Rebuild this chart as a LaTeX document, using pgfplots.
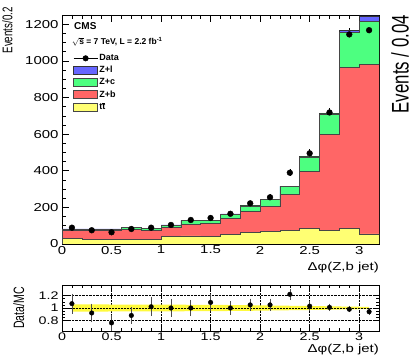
\documentclass[border=0pt]{standalone}
\usepackage{fontspec}
\setmainfont[FakeStretch=1.3]{Liberation Sans}
\newfontfamily\vfont[FakeStretch=0.7]{Liberation Sans}
\newfontfamily\bfont{Liberation Sans}
\usepackage{pgfplots}
\usepackage{pgfplotstable}
\pgfplotsset{compat=1.18}
\definecolor{zlcol}{RGB}{102,102,255}
\definecolor{zccol}{RGB}{77,255,128}
\definecolor{zbcol}{RGB}{255,102,102}
\definecolor{ttcol}{RGB}{255,255,115}
\definecolor{bandcol}{RGB}{255,250,60}
\definecolor{edge}{RGB}{70,70,70}
\newcommand{\ttbar}{t\vbox{\hrule height .5pt\kern .7pt\hbox{t}}}

\pgfplotstableread{
x   tt  zb  zc  zl
0.0 29  44  8   1
0.2 26  47  8   1
0.4 26  47  8   1
0.6 26  54  10  1
0.8 26  50  7   1
1.0 40  51  12  1
1.2 44  63  21  1
1.4 42  72  14  1
1.6 51  89  23  1
1.8 65  115 28  1
2.0 67  139 37  1
2.2 73  198 44  1
2.4 86  312 77  2
2.6 76  522 112 4
2.8 86  878 189 14
3.0 55  927 235 28
3.2 55  927 235 28
}\mc

\pgfplotstableread{
x   y    e
0.1 89   9.4
0.3 75   8.7
0.5 64   8.0
0.7 82   9.1
0.9 89   9.4
1.1 104  10.2
1.3 131  11.4
1.5 142  11.9
1.7 165  12.8
1.9 222  14.9
2.1 255  16.0
2.3 389  19.7
2.5 495  22.2
2.7 718  26.8
2.9 1144 33.8
3.1 1167 34.2
}\data

\pgfplotstableread{
x   r    e
0.1 1.07 0.13
0.3 0.92 0.12
0.5 0.76 0.10
0.7 0.88 0.10
0.9 1.02 0.12
1.1 1.00 0.11
1.3 1.00 0.10
1.5 1.09 0.10
1.7 1.00 0.08
1.9 1.05 0.07
2.1 1.05 0.07
2.3 1.22 0.06
2.5 1.03 0.05
2.7 1.01 0.03
2.9 0.98 0.02
3.1 0.94 0.02
}\ratio

% MC uncertainty band: upper edge left to right, then lower edge right to left
\pgfplotstableread{
x   b
0.1 1.060
0.3 1.058
0.5 1.056
0.7 1.055
0.9 1.054
1.1 1.053
1.3 1.052
1.5 1.050
1.7 1.048
1.9 1.045
2.1 1.040
2.3 1.036
2.5 1.032
2.7 1.027
2.9 1.022
3.1 1.018
3.1 0.982
2.9 0.978
2.7 0.973
2.5 0.968
2.3 0.964
2.1 0.960
1.9 0.955
1.7 0.952
1.5 0.950
1.3 0.948
1.1 0.947
0.9 0.946
0.7 0.945
0.5 0.944
0.3 0.942
0.1 0.940
}\band

\pgfplotsset{
  myaxis/.style={
    scale only axis, anchor=south west,
    xmin=0, xmax=3.2,
    xtick={0,0.5,1,1.5,2,2.5,3},
    xticklabels={0,0.5,1,1.5,2,2.5,3},
    minor x tick num=4,
    tick align=inside,
    major tick length=7pt, minor tick length=4pt,
    axis line style={black, line width=0.6pt},
    tick style={black, line width=0.5pt},
  },
  histo/.style={const plot mark left, line width=0.6pt, draw=edge, fill=#1,
    area legend, legend image code/.code={\draw[##1, line width=0.6pt] (0pt,-4pt) rectangle (24pt,4pt);}},
}

\begin{document}
\begin{tikzpicture}
\useasboundingbox (0pt,0pt) rectangle (415pt,361pt);

\begin{axis}[myaxis, at={(62pt,117pt)}, width=317pt, height=229pt,
  ymin=0, ymax=1250,
  ytick={0,200,400,600,800,1000,1200},
  yticklabels={0,200,400,600,800,1000,1200},
  minor y tick num=3,
  tick label style={font=\fontsize{11.5}{12}\selectfont},
  xticklabel style={yshift=1.5pt},
  xlabel={Δφ(Z,b jet)},
  xlabel style={at={(rel axis cs:1,0)}, anchor=north east, inner sep=0pt, yshift=-18pt, font=\fontsize{11.5}{12}\selectfont},
  stack plots=y,
  reverse legend,
  legend style={at={(rel axis cs:0.035,0.835)}, anchor=north west, draw=none, fill=none,
    font=\bfont\bfseries\fontsize{9}{9}\selectfont, row sep=1.2pt, inner sep=0pt,
    nodes={inner sep=1.5pt}, /tikz/every even column/.append style={column sep=3pt}},
  legend cell align=left,
]
\addplot[histo=ttcol] table[x=x, y=tt] {\mc} \closedcycle;
\addlegendentry{\ttbar}
\addplot[histo=zbcol] table[x=x, y=zb] {\mc} \closedcycle;
\addlegendentry{Z+b}
\addplot[histo=zccol] table[x=x, y=zc] {\mc} \closedcycle;
\addlegendentry{Z+c}
\addplot[histo=zlcol, draw=black!80] table[x=x, y=zl] {\mc} \closedcycle;
\addlegendentry{Z+l}
\addplot[stack plots=false, only marks, mark=*, mark size=2.9pt, black,
  legend image code/.code={\draw[black, line width=0.6pt] (0pt,0pt)--(24pt,0pt); \fill[black] (12pt,0pt) circle (2.8pt);},
  error bars/.cd, y dir=both, y explicit, error mark=none, error bar style={black, line width=0.6pt}]
  table[x=x, y=y, y error=e] {\data};
\addlegendentry{Data}
\end{axis}

\begin{axis}[myaxis, at={(62pt,30pt)}, width=317pt, height=46pt,
  ymin=0.63, ymax=1.37,
  ytick={0.8,1,1.2},
  yticklabels={0.8,1,1.2},
  minor y tick num=3,
  major tick length=6pt, minor tick length=3pt,
  grid=major, grid style={black, densely dotted, line width=0.5pt},
  tick label style={font=\fontsize{11}{11}\selectfont},
  xticklabel style={yshift=1.5pt},
  xlabel={Δφ(Z,b jet)},
  xlabel style={at={(rel axis cs:1,0)}, anchor=north east, inner sep=0pt, yshift=-13pt, font=\fontsize{11.5}{12}\selectfont},
]
\addplot[fill=bandcol, draw=none] table[x=x, y=b] {\band} -- cycle;
\addplot[black, densely dotted, line width=0.5pt] coordinates {(0,1) (3.2,1)};
\addplot[only marks, mark=*, mark size=2.3pt, black,
  error bars/.cd, y dir=both, y explicit, error mark=-, error mark options={mark size=2pt, line width=0.6pt, draw=black!70},
  error bar style={black!70, line width=0.6pt}]
  table[x=x, y=r, y error=e] {\ratio};
\end{axis}

\node[anchor=north west, inner sep=0pt, font=\bfont\bfseries\fontsize{10}{10}\selectfont] at (74pt,338.5pt) {CMS};
\node[anchor=north west, inner sep=0pt, font=\bfont\bfseries\fontsize{8.5}{9}\selectfont] at (72pt,323.5pt) {$\sqrt{\mbox{\bfont\bfseries s}}$ = 7 TeV, L = 2.2 fb\textsuperscript{-1}};
\node[rotate=90, anchor=north east, inner sep=0pt, font=\vfont\fontsize{14}{14}\selectfont] at (2pt,354pt) {Events/0.2};
\node[rotate=90, anchor=north east, inner sep=0pt, font=\vfont\fontsize{15}{15}\selectfont] at (13pt,74pt) {Data/MC};
\node[rotate=90, anchor=north east, inner sep=0pt, font=\vfont\fontsize{24}{24}\selectfont] at (391pt,346pt) {Events / 0.04};
\end{tikzpicture}
\end{document}
